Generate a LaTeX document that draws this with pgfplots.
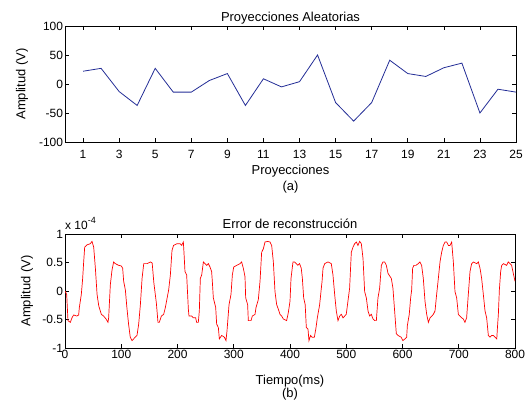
\documentclass[border=0pt]{standalone}
\usepackage{fontspec}
\setmainfont{Liberation Sans}
\usepackage{pgfplots}
\pgfplotsset{compat=1.18}
\definecolor{lineblue}{RGB}{35,45,150}
\begin{document}
\begin{tikzpicture}
\useasboundingbox (0,0) rectangle (528bp,402bp);
\pgfplotsset{
  common/.style={
    scale only axis,
    anchor=south west,
    clip mode=individual,
    tick align=inside,
    major tick length=4bp,
    axis line style={line width=0.8bp, black},
    every tick/.style={black, line width=0.6bp},
    tick label style={font=\fontsize{12}{14}\selectfont},
    /pgf/number format/assume math mode=true,
    yticklabel style={xshift=1.5bp},
  }
}
% top axis
\begin{axis}[common,
  at={(65bp,260bp)}, width=451bp, height=116bp,
  xmin=0, xmax=25, ymin=-100, ymax=100,
  xtick={1,3,...,25}, ytick={-100,-50,0,50,100},
  xticklabel style={yshift=-4.5bp},
  title={\fontsize{13}{15}\selectfont Proyecciones Aleatorias},
  title style={at={(axis description cs:0.5,1)}, anchor=base, yshift=-1bp},
  xlabel={Proyecciones\\(a)},
  xlabel style={at={(axis description cs:0.5,0)}, anchor=north, yshift=-20bp, align=center, font=\fontsize{13}{16}\selectfont},
  ylabel={Amplitud (V)},
  ylabel style={at={(axis description cs:0,0.5)}, anchor=center, yshift=43bp, font=\fontsize{13}{15}\selectfont},
]
\addplot[lineblue, line width=0.8bp] coordinates {
(1,22) (2,27) (3,-13) (4,-37) (5,27) (6,-14) (7,-14) (8,6) (9,18) (10,-37)
(11,9) (12,-5) (13,4) (14,50) (15,-32) (16,-64) (17,-32) (18,41) (19,18) (20,13)
(21,28) (22,36) (23,-50) (24,-9) (25,-14)
};
\end{axis}
% bottom axis
\begin{axis}[common,
  at={(65bp,54bp)}, width=450bp, height=114bp,
  xmin=0, xmax=800, ymin=-1, ymax=1,
  xtick={0,100,...,800}, ytick={-1,-0.5,0,0.5,1},
  xticklabel style={yshift=1.5bp},
  title={\fontsize{13}{15}\selectfont Error de reconstrucción},
  title style={at={(axis description cs:0.5,1)}, anchor=base, yshift=0bp},
  xlabel={Tiempo(ms)\\(b)},
  xlabel style={at={(axis description cs:0.5,0)}, anchor=north, yshift=-24bp, align=center, font=\fontsize{13}{13}\selectfont},
  ylabel={Amplitud (V)},
  ylabel style={at={(axis description cs:0,0.5)}, anchor=center, yshift=38bp, font=\fontsize{13}{15}\selectfont},
]
\addplot[red, line width=0.7bp] coordinates {
(0,0) (3,-0.06) (5.3,-0.52) (9.5,-0.55) (12.4,-0.47) (15.4,-0.42) (21,-0.44) (24.3,-0.42)
(25.5,-0.29) (29,-0.06) (31.4,0.22) (33.2,0.51) (35,0.77) (39,0.81) (45,0.83) (48,0.87)
(51,0.77) (54,0.40) (57,-0.06) (60,-0.26) (64.6,-0.41) (68.7,-0.44) (72.9,-0.49) (76.4,-0.55)
(77.6,-0.47) (80.6,0.11) (83.6,0.37) (86.5,0.51) (89.5,0.48) (95.4,0.45) (100,0.44) (102.5,0.40)
(104.3,0.17) (107.3,0.02) (110,-0.29) (113,-0.58) (116,-0.81) (119,-0.87) (125,-0.81) (128,-0.78)
(131,-0.58) (134,-0.24) (137,0.22) (140,0.48) (146,0.48) (152,0.51) (155,0.49) (158,0.14)
(162.4,-0.21) (165.3,-0.55) (167.7,-0.55) (171.3,-0.44) (175.4,-0.41) (178.4,-0.29) (184.3,0.02) (187.3,0.28)
(190.2,0.71) (193,0.80) (199,0.83) (204.4,0.83) (207.4,0.80) (210.4,0.86) (211.6,0.66) (213.3,0.34)
(216.3,0.28) (218,-0.06) (219.3,-0.32) (220.4,-0.44) (225.2,-0.44) (228,-0.47) (232.3,-0.47) (234,-0.55)
(237,-0.55) (238.8,-0.35) (240.6,0.22) (243,0.28) (246,0.51) (248.9,0.48) (251.9,0.45) (254.8,0.48)
(257.8,0.42) (260.7,0.34) (261.9,0.17) (263.7,-0.12) (267.9,-0.29) (269.6,-0.58) (272.6,-0.64) (274.4,-0.84)
(278.5,-0.78) (283.3,-0.81) (286.2,-0.87) (288,-0.70) (291.6,-0.24) (295.1,-0.06) (297.5,0.28) (299.9,0.42)
(305.2,0.45) (311.1,0.48) (314,0.51) (317,0.40) (320,0.25) (321.2,-0.12) (324.7,-0.24) (325.9,-0.52)
(330.7,-0.52) (333,-0.44) (337.8,-0.41) (339.6,-0.29) (343.7,-0.15) (346.7,0.17) (349.6,0.68) (352.6,0.74)
(355.6,0.86) (360.3,0.87) (364.4,0.86) (367.4,0.80) (370.4,0.51) (373.3,-0.01) (376.3,-0.24) (379.3,-0.32)
(382.2,-0.41) (385.2,-0.44) (388.1,-0.49) (394,-0.52) (397,-0.38) (400,-0.18) (401.8,0.22) (405.3,0.51)
(408,0.51) (411,0.48) (414,0.45) (417,0.48) (420,0.40) (422,0.22) (424.3,-0.12) (427,-0.24)
(429,-0.64) (432,-0.67) (433.7,-0.87) (436.6,-0.78) (439,-0.81) (443.3,-0.81) (446.3,-0.64) (448.6,-0.47)
(452.7,-0.24) (455.7,0.05) (457,0.17) (458.7,0.40) (461.7,0.48) (467.5,0.51) (473.4,0.48) (476.4,0.28)
(479.4,-0.06) (482.3,-0.35) (485.3,-0.52) (488.3,-0.44) (491.3,-0.41) (494.2,-0.47) (497.2,-0.44) (500,-0.41)
(503,-0.18) (506,0.05) (509,0.68) (512,0.77) (514.9,0.83) (517.9,0.86) (520.8,0.80) (523.8,0.87)
(526.8,0.83) (529.8,0.57) (532.7,-0.01) (535.7,-0.12) (538.7,-0.35) (541.6,-0.44) (544.6,-0.41) (547.5,-0.49)
(550.5,-0.52) (553.5,-0.52) (556.4,-0.12) (559.4,0.05) (562.4,0.45) (565.3,0.51) (568.3,0.51) (571.3,0.45)
(574.2,0.31) (580.1,0.22) (583,0.05) (586,-0.35) (589,-0.75) (592,-0.78) (597.6,-0.81) (600.6,-0.87)
(604.4,-0.84) (607.4,-0.81) (608.6,-0.61) (612,-0.41) (614.5,-0.12) (616.3,0.02) (618,0.40) (620.3,0.45)
(623.8,0.45) (628,0.48) (631,0.51) (634,0.45) (637,0.22) (640,-0.18) (643,-0.41) (646,-0.55)
(649,-0.47) (652,-0.44) (654.8,-0.41) (657.8,-0.35) (660.7,-0.06) (663.7,0.22) (666.7,0.51) (669.6,0.68)
(672.6,0.80) (675.6,0.86) (678.5,0.86) (681.5,0.80) (684.4,0.80) (687.4,0.86) (690.4,0.51) (693.3,-0.01)
(696.3,-0.12) (699.3,-0.41) (702.2,-0.44) (705.2,-0.47) (708.1,-0.49) (711,-0.55) (714,-0.47) (717,-0.06)
(720,0.34) (722.9,0.48) (725.9,0.51) (731.9,0.48) (734.8,0.51) (737.8,0.40) (740.7,0.22) (743.7,-0.06)
(746.7,-0.35) (749.6,-0.47) (752.6,-0.78) (755.6,-0.81) (758.5,-0.78) (761.5,-0.78) (764.4,-0.81) (767.6,-0.84)
(768.8,-0.64) (770.4,-0.41) (772.2,0.02) (774.5,0.34) (776.3,0.45) (779.3,0.48) (785.2,0.45) (788,0.51)
(791,0.48) (794,0.45) (797.6,0.28) (800,0.17)
};
\node[anchor=base west, font=\fontsize{12}{14}\selectfont, inner sep=0pt] at (axis description cs:0,1) [yshift=5bp] {x 10\raisebox{6bp}{\fontsize{9}{10}\selectfont -4}};
\end{axis}
\end{tikzpicture}
\end{document}
